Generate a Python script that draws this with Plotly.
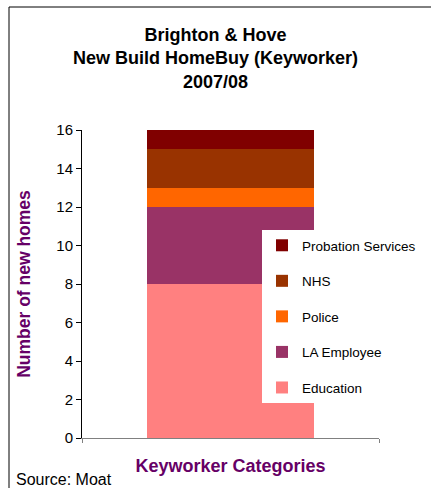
import plotly.graph_objects as go

# Data
category = ["Keyworker"]
series_names = ["Education", "LA Employee", "Police", "NHS", "Probation Services"]
series_values = [8, 4, 1, 2, 1]
series_colors = ["#FF8080", "#993366", "#FF6600", "#993300", "#800000"]
y_ticks = [0, 2, 4, 6, 8, 10, 12, 14, 16]

FONT = "Arial, Liberation Sans, sans-serif"
PURPLE = "#660066"

fig = go.Figure()
for i, (name, val, col) in enumerate(zip(series_names, series_values, series_colors)):
    fig.add_trace(go.Bar(x=category, y=[val], name=name, legendgroup=name,
                         legendrank=len(series_names) - i,
                         marker=dict(color=col, line=dict(width=0)),
                         width=0.562))

W, H = 431, 488
ml, mr, mt, mb = 82, 52, 130, 50
pw, ph = W - ml - mr, H - mt - mb


def px_x(p):
    return (p - ml) / pw


def px_y(p):
    return (H - mb - p) / ph


fig.update_layout(
    width=W, height=H,
    margin=dict(l=ml, r=mr, t=mt, b=mb, autoexpand=False),
    paper_bgcolor="white", plot_bgcolor="white",
    barmode="stack",
    font=dict(family=FONT, color="black"),
    title=dict(text="<b>Brighton & Hove<br>New Build HomeBuy (Keyworker)<br>2007/08</b>",
               font=dict(family=FONT, size=18, color="black"),
               x=0.5, xanchor="center", xref="container",
               y=1 - 41 / H, yanchor="middle", yref="container"),
    legend=dict(x=px_x(262), y=px_y(230), xanchor="left", yanchor="top",
                bgcolor="white", borderwidth=0,
                font=dict(family=FONT, size=13.5, color="black"),
                traceorder="grouped", tracegroupgap=15),
    xaxis=dict(range=[-0.5, 0.5], showticklabels=False,
               showline=True, linecolor="#808080", linewidth=1,
               ticks="outside", tickson="boundaries", ticklen=4, tickcolor="#808080",
               showgrid=False, zeroline=False, fixedrange=True,
               title=dict(text="<b>Keyworker Categories</b>", standoff=21,
                          font=dict(family=FONT, size=18, color=PURPLE))),
    yaxis=dict(range=[0, 16], tickvals=y_ticks, showgrid=False, zeroline=False,
               showline=True, linecolor="black", linewidth=1,
               ticks="outside", ticklen=5, tickcolor="black",
               tickfont=dict(family=FONT, size=15, color="black"),
               title=dict(text="<b>Number of new homes</b>", standoff=21,
                          font=dict(family=FONT, size=17.5, color=PURPLE))),
    showlegend=True,
)

# outer chart border (only top and left edges are visible in the crop)
fig.add_shape(type="rect", xref="paper", yref="paper",
              x0=px_x(9), x1=px_x(W + 20), y0=px_y(H + 20), y1=px_y(7),
              line=dict(color="black", width=1), fillcolor="rgba(0,0,0,0)",
              layer="below")

fig.add_annotation(text="Source: Moat", xref="paper", yref="paper",
                   x=px_x(14), y=px_y(480), xanchor="left", yanchor="middle",
                   showarrow=False, font=dict(family=FONT, size=16, color="black"))

fig.write_html("out.html", config={"displayModeBar": False},
               post_script="document.body.style.margin='0';")
